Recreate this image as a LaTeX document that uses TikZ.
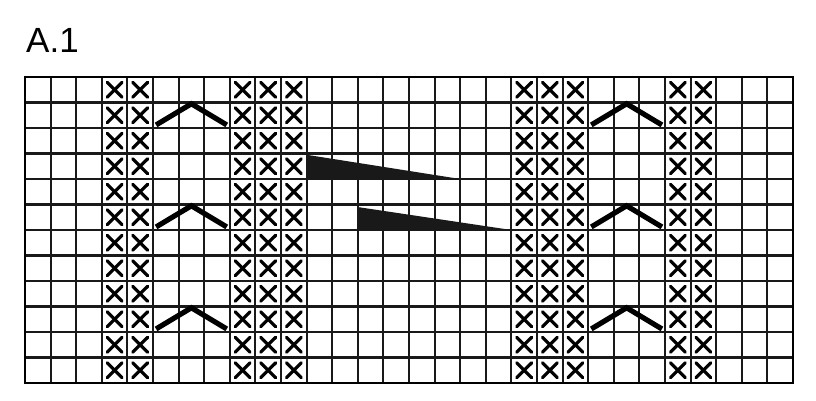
\documentclass[tikz,border=0pt]{standalone}
\usepackage{fontspec}
\setsansfont{Liberation Sans}
\usetikzlibrary{calc}

\begin{document}
\begin{tikzpicture}[
    x=12.8pt, y=12.75pt,
    gridline/.style={line width=1.05pt, draw=black!90},
    xmark/.style={line width=1.6pt, line cap=round},
    chevron/.style={line width=2.6pt},
    wedge/.style={fill=black!90, draw=none},
]
    \useasboundingbox (-0.977,-0.667) rectangle (30.898,15.02);

    % Chart title
    \node[font=\sffamily\fontsize{17.5}{20}\selectfont, anchor=base west, inner sep=0pt] (title) at (0.03,12.98) {A.1};

    % 30 x 12 grid
    \draw[gridline, step={(1,1)}] (0,0) grid (30,12);
    \draw[line width=1.2pt] (0,0) rectangle (30,12);

    % Crossed cells
    \foreach \c in {4,5,9,10,11,20,21,22,26,27} {
        \foreach \r in {1,...,12} {
            \draw[xmark] (\c-0.79,\r-0.79) -- (\c-0.21,\r-0.21);
            \draw[xmark] (\c-0.79,\r-0.21) -- (\c-0.21,\r-0.79);
        }
    }

    % Chevrons over three cells
    \foreach \x in {5,22} {
        \foreach \y in {2,6,10} {
            \draw[chevron] (\x+0.12,\y+0.12) -- (\x+1.5,\y+0.95) -- (\x+2.88,\y+0.12);
        }
    }

    % Cable wedges
    \fill[wedge] (11,8.95) -- (11,8) -- (17,8) -- cycle;
    \fill[wedge] (13,6.9) -- (13,6) -- (19,6) -- cycle;

\end{tikzpicture}
\end{document}
